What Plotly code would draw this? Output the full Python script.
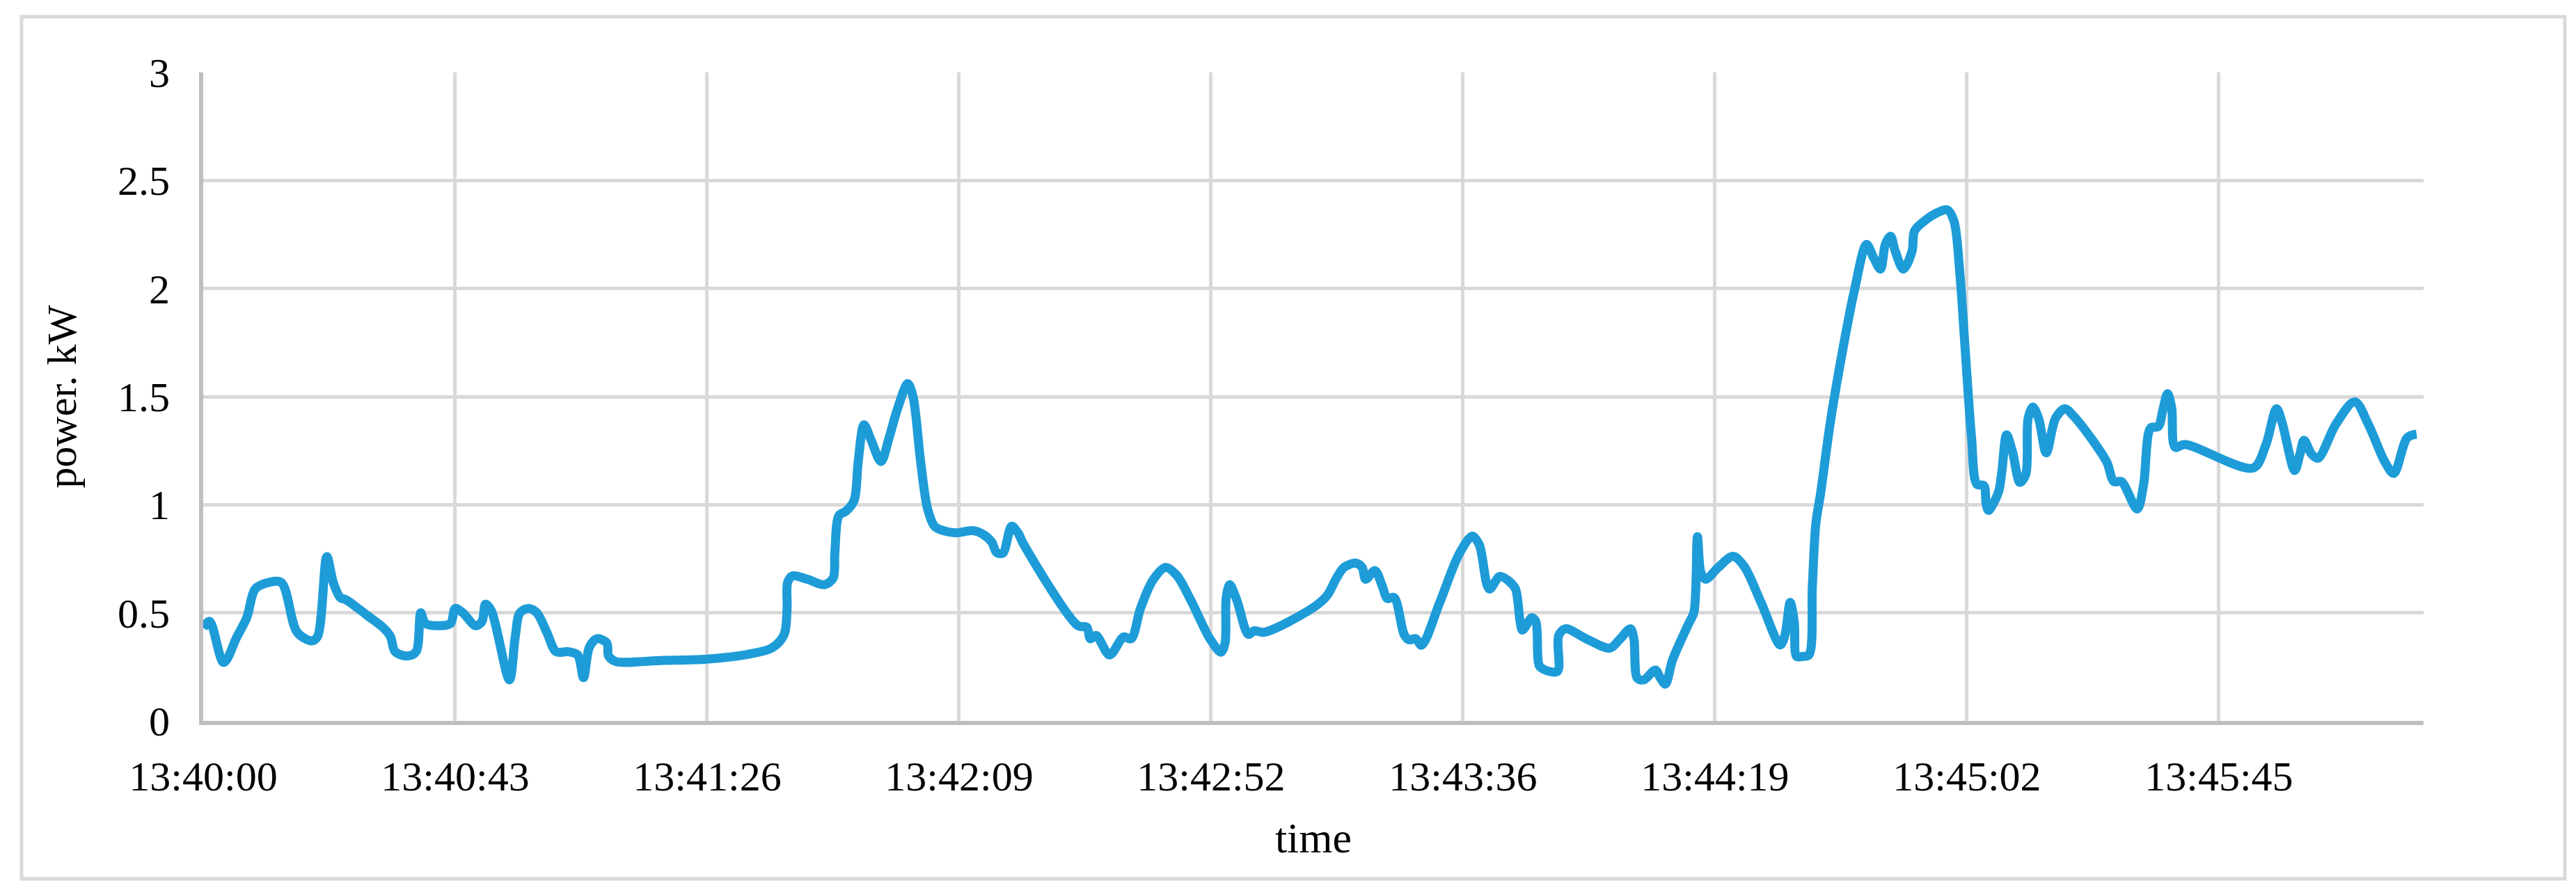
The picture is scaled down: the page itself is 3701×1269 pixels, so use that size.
import plotly.graph_objects as go

# time in seconds after 13:40:00
t_sec = [0, 1.1, 3.5, 5.8, 7.5, 8.9, 11.2, 13.4, 16.1, 18.6, 19.6, 21.2, 22.3, 23.5, 24.5,
         28.0, 30.9, 32.1, 32.9, 35.0, 36.5, 37.3, 38.1, 40.4, 42.4, 43.2, 44.5, 46.7, 47.8,
         48.4, 49.4, 52.5, 53.5, 54.3, 55.8, 57.2, 58.9, 60.5, 62.6, 64.2, 65.2, 66.2, 67.5,
         69.2, 69.5, 70.7, 79.0, 86.4, 93.4, 97.5, 99.6, 100.1, 100.2, 101.0, 103.6, 106.5,
         108.0, 108.3, 109.0, 110.2, 111.6, 112.3, 113.3, 114.5, 116.2, 117.6, 119.0, 120.8,
         121.7, 123.0, 124.2, 125.4, 126.9, 129.0, 132.0, 133.6, 135.2, 136.0, 137.1, 138.6,
         139.8, 140.6, 150.0, 151.5, 152.1, 153.1, 155.4, 157.8, 159.1, 160.7, 162.8, 165.0,
         166.9, 169.3, 172.6, 174.5, 175.2, 175.4, 176.0, 177.2, 179.2, 180.2, 181.9, 190.1,
         192.7, 194.3, 195.6, 197.6, 198.7, 199.3, 200.9, 202.2, 203.0, 204.2, 205.9, 206.7,
         207.9, 208.9, 212.0, 215.3, 217.6, 218.8, 220.5, 222.3, 223.9, 225.0, 225.8, 226.2,
         227.8, 228.5, 229.1, 230.1, 232.2, 232.4, 233.6, 237.1, 241.2, 242.8, 244.7, 245.3,
         245.9, 247.0, 249.0, 249.8, 250.7, 251.9, 253.5, 254.7, 255.6, 256.2, 256.8, 257.6,
         259.7, 262.3, 264.2, 267.1, 270.4, 271.2, 272.1, 272.8, 273.2, 274.1, 275.3, 275.9,
         276.5, 277.3, 279.0, 281.0, 283.1, 285.2, 286.4, 287.6, 288.4, 289.3, 290.1, 291.5,
         293.0, 293.4, 295.0, 297.1, 299.1, 300.2, 301.2, 302.0, 303.2, 304.1, 305.3, 305.7,
         306.1, 307.8, 308.4, 309.2, 310.2, 311.5, 312.5, 312.9, 313.7, 314.7, 316.0, 317.6,
         319.2, 320.7, 323.9, 326.4, 327.6, 328.9, 331.6, 332.7, 333.9, 335.2, 336.0, 336.8,
         337.5, 338.1, 339.8, 351.5, 353.6, 355.5, 356.5, 358.6, 359.5, 360.2, 361.5, 362.6,
         365.7, 368.9, 371.2, 374.1, 375.6, 377.9, 379.5]

power_kw = [0.43, 0.46, 0.27, 0.39, 0.48, 0.61, 0.64, 0.64, 0.41, 0.37, 0.39, 0.76, 0.64, 0.57, 0.56,
            0.49, 0.43, 0.39, 0.32, 0.30, 0.32, 0.50, 0.45, 0.44, 0.45, 0.52, 0.50, 0.44, 0.46,
            0.54, 0.51, 0.19, 0.39, 0.50, 0.52, 0.50, 0.41, 0.32, 0.32, 0.305, 0.20, 0.34, 0.38,
            0.36, 0.30, 0.275, 0.28, 0.286, 0.308, 0.337, 0.40, 0.52, 0.64, 0.67, 0.655, 0.63,
            0.66, 0.78, 0.95, 0.97, 1.02, 1.20, 1.37, 1.30, 1.20, 1.31, 1.44, 1.56,
            1.50, 1.20, 0.98, 0.90, 0.88, 0.87, 0.88, 0.865, 0.827, 0.78, 0.776, 0.90,
            0.865, 0.82, 0.44, 0.433, 0.38, 0.395, 0.305, 0.388, 0.38, 0.52, 0.65, 0.71,
            0.674, 0.56, 0.38, 0.318, 0.36, 0.57, 0.63, 0.56, 0.40, 0.417, 0.41, 0.52,
            0.58, 0.66, 0.71, 0.73, 0.71, 0.655, 0.695, 0.62, 0.566, 0.57, 0.40, 0.375,
            0.38, 0.35, 0.547, 0.77, 0.855, 0.814, 0.61, 0.668, 0.646, 0.61, 0.458, 0.42,
            0.477, 0.458, 0.254, 0.235, 0.229, 0.394, 0.426, 0.38, 0.337, 0.375, 0.426, 0.38,
            0.197, 0.19, 0.235, 0.20, 0.17, 0.28, 0.38, 0.45, 0.503, 0.852, 0.685, 0.655,
            0.708, 0.761, 0.715, 0.548, 0.351, 0.397, 0.548, 0.457, 0.298, 0.298, 0.305, 0.624,
            0.913, 1.05, 1.384, 1.70, 1.99, 2.204, 2.143, 2.09, 2.204, 2.242, 2.174, 2.09,
            2.174, 2.265, 2.31, 2.348, 2.363, 2.31, 2.067, 1.76, 1.308, 1.095, 1.088, 1.004,
            0.974, 1.057, 1.156, 1.323, 1.247, 1.103, 1.141, 1.399, 1.452, 1.399, 1.24, 1.40,
            1.444, 1.41, 1.30, 1.196, 1.107, 1.107, 0.98, 1.094, 1.355, 1.361, 1.438, 1.514,
            1.45, 1.266, 1.279, 1.17, 1.272, 1.444, 1.374, 1.158, 1.234, 1.298, 1.234, 1.215,
            1.374, 1.476, 1.374, 1.196, 1.145, 1.31, 1.326]

x_tick_seconds = [0, 43.2, 86.4, 129.6, 172.8, 216.0, 259.2, 302.4, 345.6]
x_tick_labels = ["13:40:00", "13:40:43", "13:41:26", "13:42:09", "13:42:52",
                 "13:43:36", "13:44:19", "13:45:02", "13:45:45"]
y_ticks = [0, 0.5, 1, 1.5, 2, 2.5, 3]
y_tick_labels = ["0", "0.5", "1", "1.5", "2", "2.5", "3"]

FONT = "Liberation Serif"
W, H = 3701, 1269
L, R, T, B = 284, 3474, 96, 1028

fig = go.Figure()
fig.add_trace(go.Scatter(
    x=t_sec, y=power_kw, mode="lines",
    line=dict(color="#1E9CD8", width=13, shape="spline", smoothing=0.9),
    showlegend=False, hoverinfo="skip",
))

fig.update_layout(
    width=W, height=H,
    margin=dict(l=L, r=W - R, t=T, b=H - B, pad=0),
    paper_bgcolor="white", plot_bgcolor="white",
    font=dict(family=FONT, size=60, color="#000000"),
    xaxis=dict(
        range=[0, 380.7], tickmode="array", tickvals=x_tick_seconds, ticktext=x_tick_labels,
        showgrid=True, gridcolor="#D9D9D9", gridwidth=5, zeroline=False,
        showline=True, linecolor="#BFBFBF", linewidth=6, ticks="",
        ticklabelstandoff=22,
        title=dict(text="time", font=dict(family=FONT, size=62), standoff=36),
        tickfont=dict(family=FONT, size=60),
    ),
    yaxis=dict(
        range=[0, 3], tickmode="array", tickvals=y_ticks, ticktext=y_tick_labels,
        showgrid=True, gridcolor="#D9D9D9", gridwidth=5, zeroline=False,
        showline=True, linecolor="#BFBFBF", linewidth=6, ticks="",
        ticklabelstandoff=30,
        title=dict(text="power. kW", font=dict(family=FONT, size=60), standoff=42),
        tickfont=dict(family=FONT, size=60),
    ),
    shapes=[dict(
        type="rect", xref="paper", yref="paper",
        x0=(23 - L) / (R - L), x1=(3677 - L) / (R - L),
        y0=(B - 1255) / (B - T), y1=(B - 16) / (B - T),
        line=dict(color="#D9D9D9", width=5), fillcolor="rgba(0,0,0,0)", layer="below",
    )],
)

fig.write_html("out.html")
